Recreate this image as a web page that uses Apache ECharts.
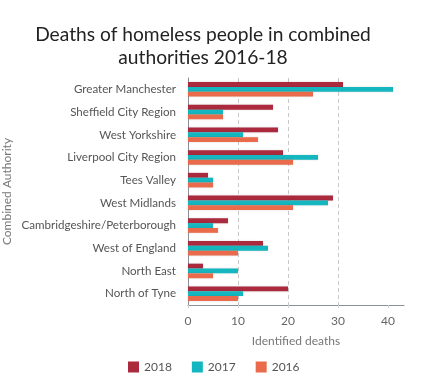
<!DOCTYPE html>
<html><head><meta charset="utf-8">
<script src="https://cdn.jsdelivr.net/npm/echarts@6/dist/echarts.min.js"></script>
<style>html,body{margin:0;padding:0;background:#fff}#c{width:435px;height:389px}</style>
</head><body><div id="c"></div>
<script>
const categories = ["Greater Manchester","Sheffield City Region","West Yorkshire","Liverpool City Region","Tees Valley","West Midlands","Cambridgeshire/Peterborough","West of England","North East","North of Tyne"];
const deaths2018 = [31,17,18,19,4,29,8,15,3,20];
const deaths2017 = [41,7,11,26,5,28,5,16,10,11];
const deaths2016 = [25,7,14,21,5,21,6,10,5,10];
const xTicks = [0,10,20,30,40];
const seriesNames = ["2018","2017","2016"];
const colors = ["#ab2a3e","#14b6bf","#ea6b4b"];

const chart = echarts.init(document.getElementById('c'));
const font = 'Lato, "Open Sans", sans-serif';
const mk = (name, data, i) => ({
  name, type: 'bar', data, barGap: '0%', barCategoryGap: '36%',
  itemStyle: { color: colors[i], shadowColor: 'rgba(0,0,0,0.18)', shadowBlur: 2 },
  emphasis: { disabled: true }
});
chart.setOption({
  animation: false,
  color: colors,
  title: { text: 'Deaths of homeless people in combined\nauthorities 2016-18', left: 198, textAlign: 'center', top: 18,
    textStyle: { fontFamily: font, fontSize: 19.2, fontWeight: 'normal', color: '#222', lineHeight: 23 } },
  legend: { bottom: 11, left: 123, itemWidth: 11, itemHeight: 11, itemGap: 20, icon: 'rect',
    data: seriesNames, textStyle: { fontFamily: font, fontSize: 12, color: '#555' } },
  grid: { left: 187, right: 31, top: 78, bottom: 84 },
  xAxis: { type: 'value', min: 0, max: 43.2, interval: 10,
    name: 'Identified deaths', nameLocation: 'middle', nameGap: 30,
    nameTextStyle: { fontFamily: font, fontSize: 12, color: '#777' },
    axisLine: { show: true, lineStyle: { color: '#8a8f99' } },
    axisTick: { show: true, length: 3, customValues: xTicks, lineStyle: { color: '#cfd2d6' } },
    axisLabel: { customValues: xTicks, margin: 10, fontFamily: font, fontSize: 12, color: '#666' },
    splitLine: { show: true, showMinLine: false, showMaxLine: false, lineStyle: { type: [4,3], color: '#c8c8c8' } } },
  yAxis: { type: 'category', data: categories, inverse: true,
    name: 'Combined Authority', nameLocation: 'middle', nameGap: 175, nameRotate: 90,
    nameTextStyle: { fontFamily: font, fontSize: 12, color: '#777' },
    axisLine: { show: true, lineStyle: { color: '#8a8f99' } },
    axisTick: { show: false },
    axisLabel: { margin: 12, fontFamily: font, fontSize: 11.6, color: '#555' } },
  series: [mk(seriesNames[0], deaths2018, 0), mk(seriesNames[1], deaths2017, 1), mk(seriesNames[2], deaths2016, 2)]
});
</script></body></html>
